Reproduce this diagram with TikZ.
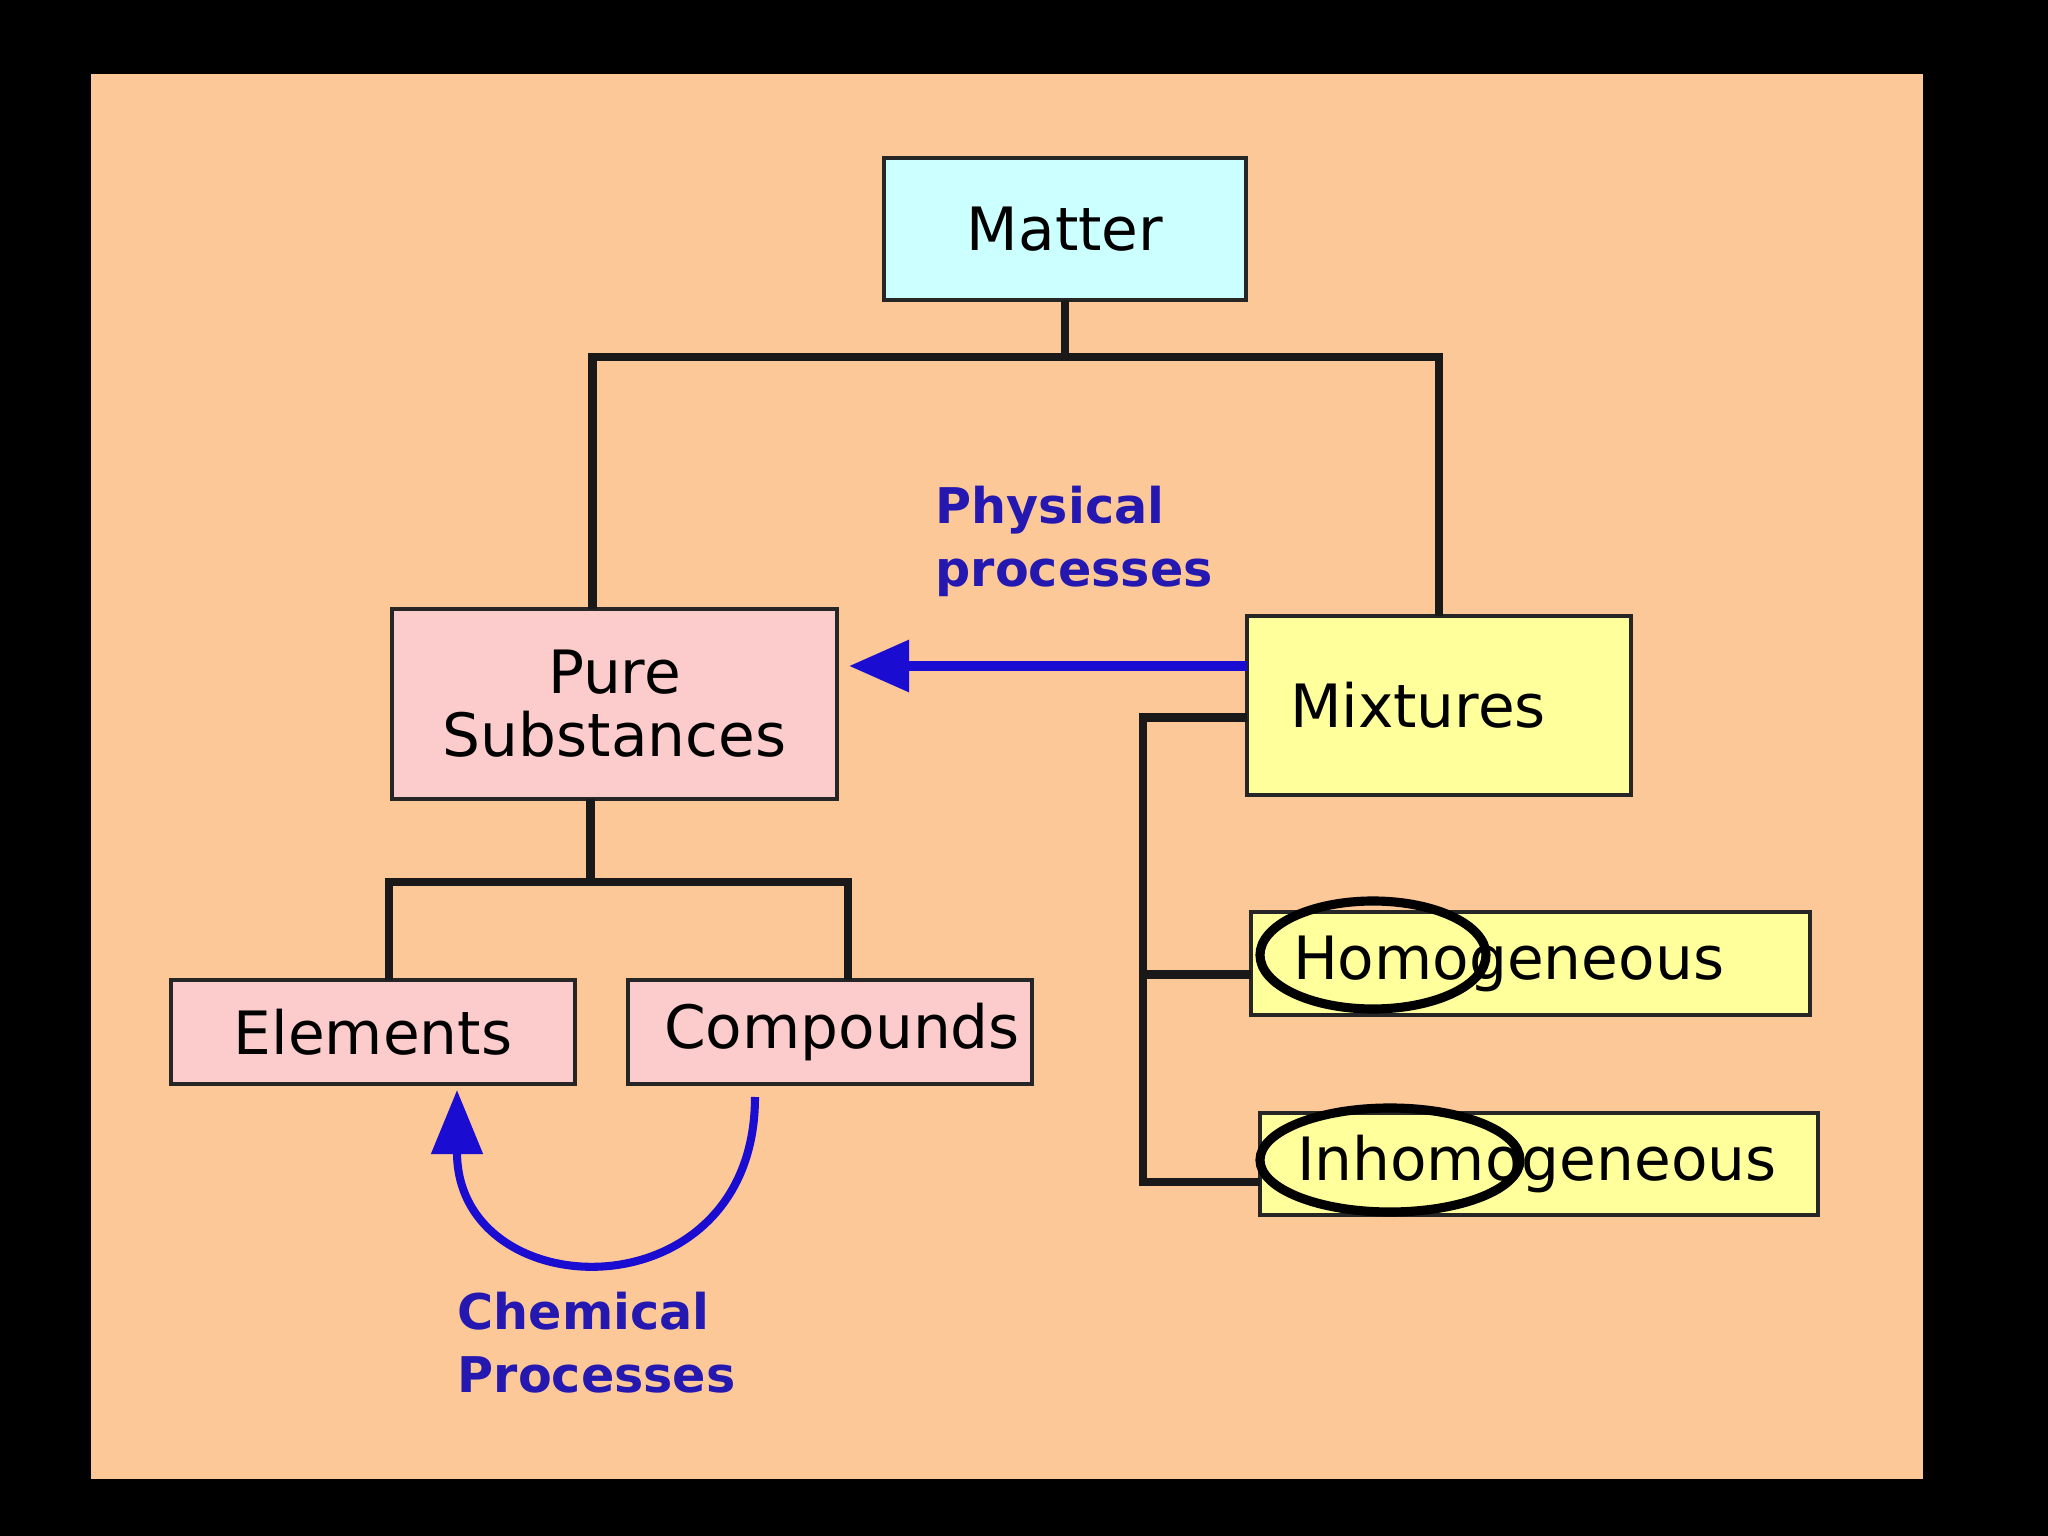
\documentclass[tikz,border=0pt]{standalone}
\usepackage{fontspec}
\setmainfont{DejaVu Sans}
\usetikzlibrary{arrows.meta}
\definecolor{panelpeach}{HTML}{FCC898}
\definecolor{mattercyan}{HTML}{CCFFFF}
\definecolor{purepink}{HTML}{FCCCCC}
\definecolor{mixyellow}{HTML}{FFFF9C}
\definecolor{procblue}{HTML}{2418B0}
\definecolor{arrowblue}{HTML}{1A0CD0}

\begin{document}
\begin{tikzpicture}[
  termbox/.style={draw=black!85,line width=1.3pt,inner sep=0pt,outer sep=0pt,
    align=center,font=\fontsize{17}{18}\selectfont},
  cyanbox/.style={termbox,fill=mattercyan},
  pinkbox/.style={termbox,fill=purepink},
  yellowbox/.style={termbox,fill=mixyellow,align=left},
  branch/.style={line width=2.3pt,black!90},
  procarrow/.style={arrowblue,line width=2.7pt,-{Triangle[length=6mm,width=5mm]}},
  proclabel/.style={procblue,font=\fontsize{14}{18}\selectfont\bfseries,
    align=left,anchor=north west,inner sep=0pt},
  ring/.style={line width=2.6pt}
]
  \fill[black] (0,0) rectangle (20.48,-15.36);
  \fill[panelpeach] (0.91,-0.745) rectangle (19.23,-14.785);

  \node[cyanbox,minimum width=3.62cm,minimum height=1.42cm] (matter) at (10.65,-2.29) {Matter};
  \node[pinkbox,minimum width=4.45cm,minimum height=1.90cm] (pure) at (6.145,-7.04) {Pure\\Substances};
  \node[yellowbox,text width=2.98cm,inner xsep=4.3mm,minimum height=1.79cm] (mix) at (14.39,-7.055) {Mixtures};
  \node[pinkbox,minimum width=4.04cm,minimum height=1.04cm] (elem) at (3.73,-10.32) {Elements};
  \node[pinkbox,text width=3.8cm,inner xsep=1.2mm,align=right,minimum height=1.04cm] (comp) at (8.30,-10.32) {Compounds};
  \node[yellowbox,text width=4.75cm,inner xsep=4.2mm,minimum height=1.03cm] (homo) at (15.305,-9.635) {Homogeneous};
  \node[yellowbox,text width=4.84cm,inner xsep=3.7mm,minimum height=1.02cm] (inhomo) at (15.39,-11.64) {Inhomogeneous};

  \node[proclabel] (phys) at (9.35,-4.85) {Physical\\processes};
  \node[proclabel] (chem) at (4.57,-12.91) {Chemical\\Processes};

  \draw[branch] (matter.south) -- ++(0,-0.57) coordinate (split);
  \draw[branch] ([xshift=-2.2mm]pure.north) |- (split) -| (mix.north);
  \draw[branch] ([xshift=-2.4mm]pure.south) -- ++(0,-0.83) coordinate (psplit);
  \draw[branch] ([xshift=1.6mm]elem.north) |- (psplit) -| ([xshift=1.8mm]comp.north);
  \draw[branch] ([yshift=-1.2mm]mix.west) -- ++(-1.04,0) coordinate (mstem)
    |- ([yshift=-1.8mm]inhomo.west);
  \draw[branch] ([yshift=-1.1mm]homo.west) -| (mstem);

  \draw[ring] ([xshift=12.2mm,yshift=0.85mm]homo.west) ellipse (1.13 and 0.54);
  \draw[ring] ([xshift=13mm,yshift=0.4mm]inhomo.west) ellipse (1.30 and 0.52);

  \coordinate (physstart) at ([yshift=3.95mm]mix.west);
  \draw[procarrow,shorten >=1.2mm] (physstart) -- (physstart -| pure.east);
  \draw[procarrow,line width=2.3pt,-{Triangle[length=6.4mm,width=5mm]}]
    ([xshift=12.7mm,yshift=-1.3mm]comp.south west) .. controls +(0,-2.2) and +(0,-2.2) ..
    ([xshift=-11.8mm,yshift=-0.6mm]elem.south east);
\end{tikzpicture}
\end{document}
